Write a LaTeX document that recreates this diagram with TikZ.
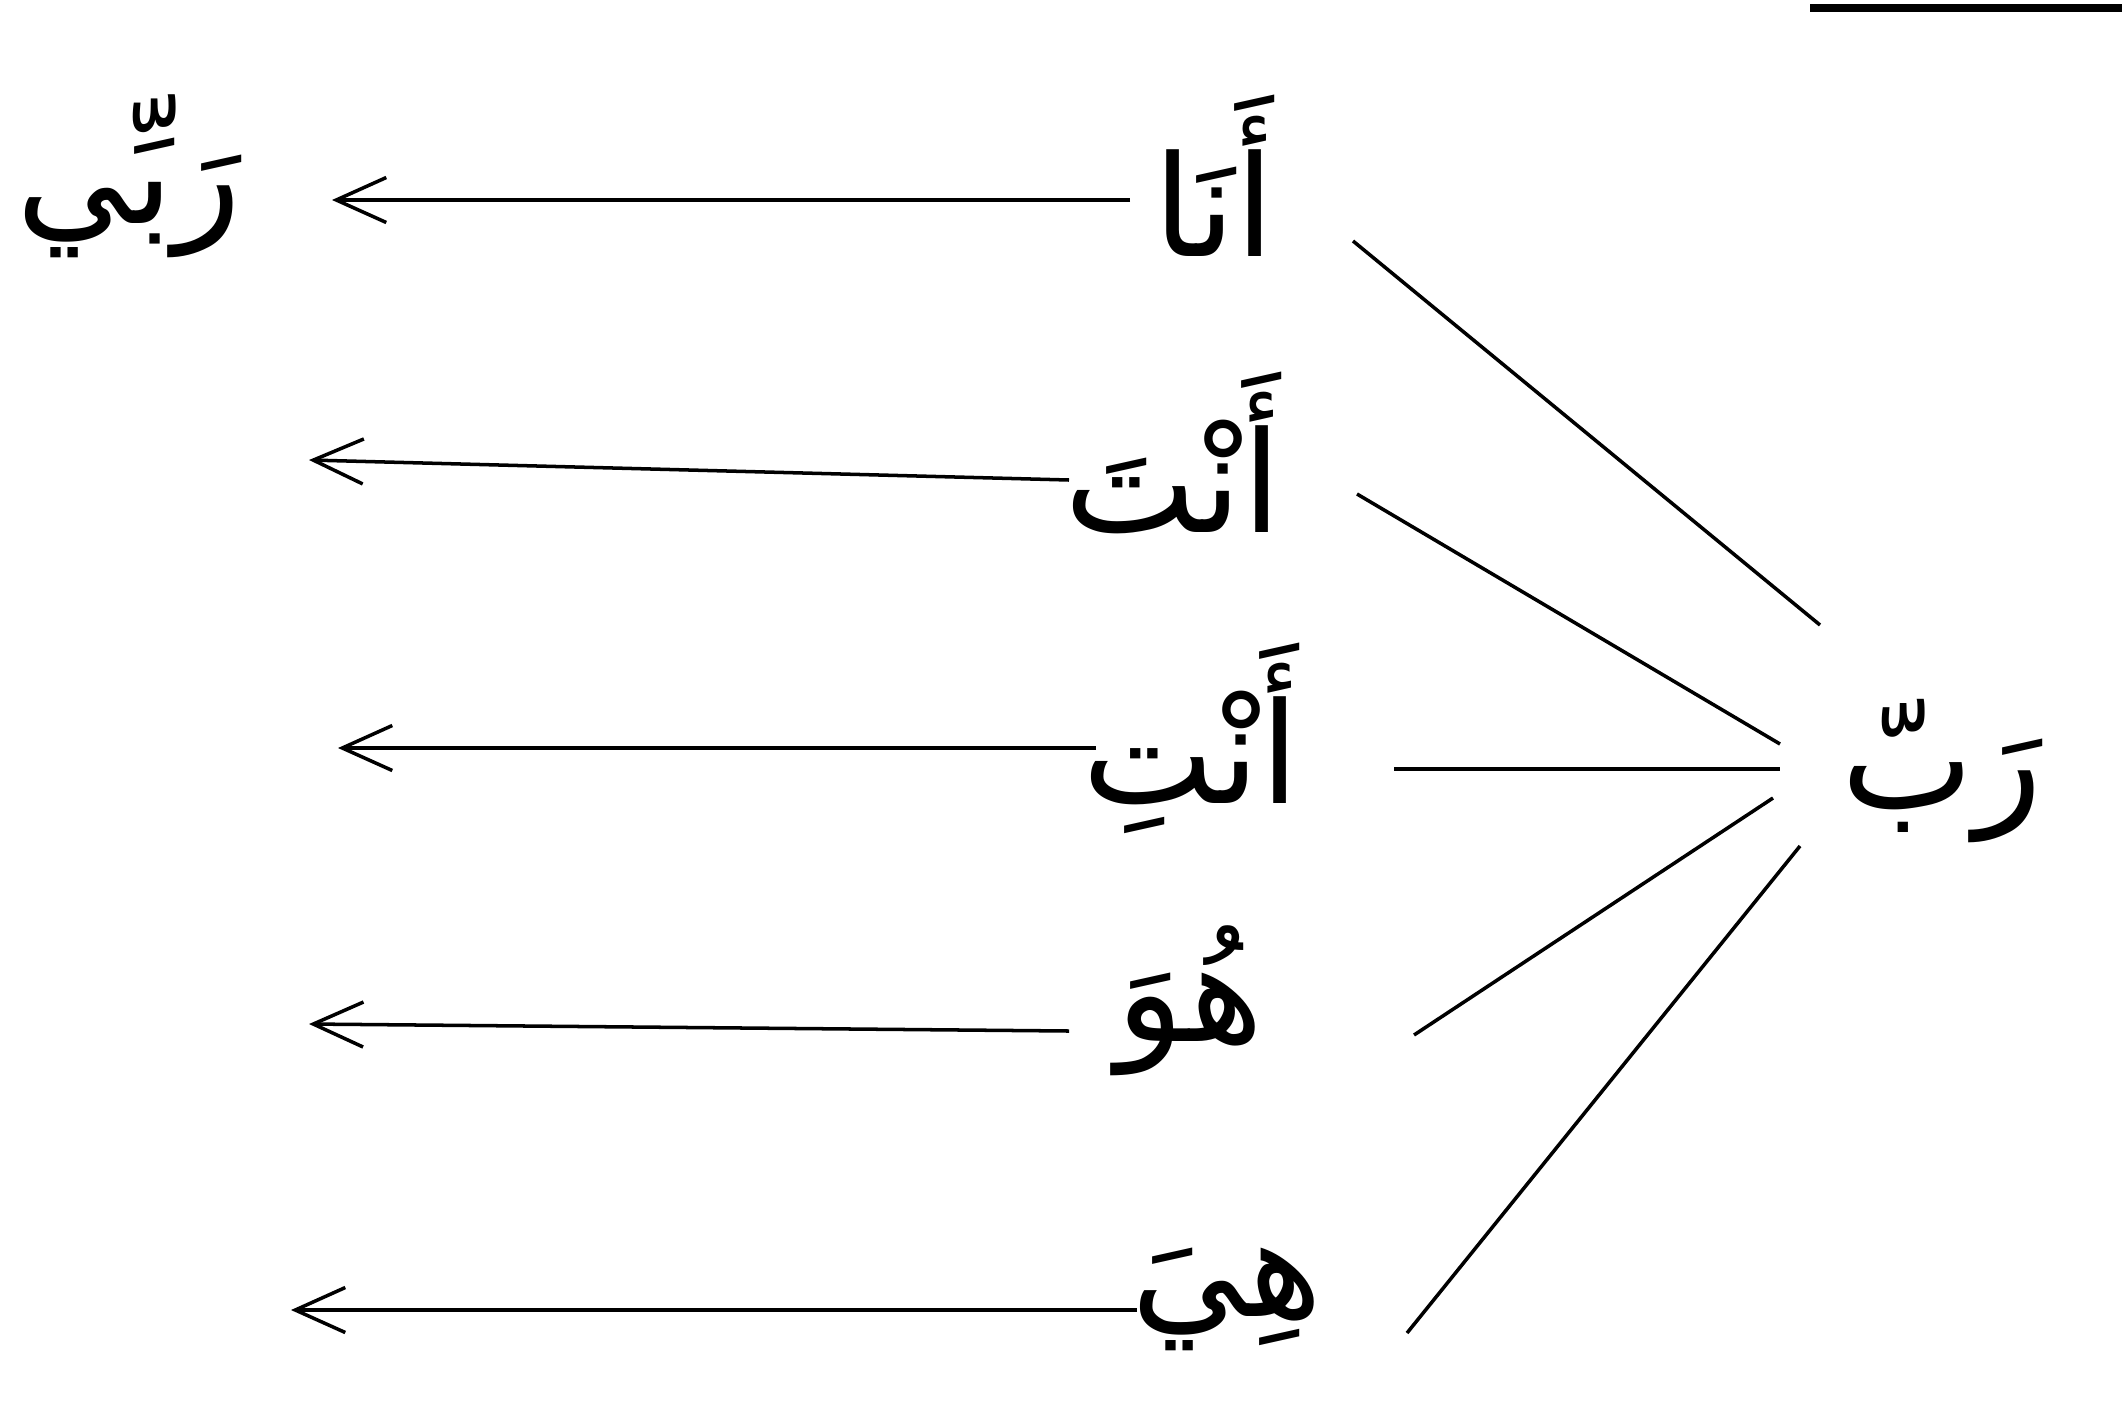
\documentclass[tikz,border=0pt]{standalone}
\usepackage{fontspec}
\newfontfamily\arabicfont[Script=Arabic]{DejaVu Sans}
\TeXXeTstate=1
\usetikzlibrary{arrows.meta}
\tikzset{
  word/.style={font=\arabicfont\fontsize{40}{48}\selectfont, inner sep=0pt},
  arr/.style={line width=1pt, -{Straight Barb[length=5mm,width=4.5mm,line width=1pt]}},
  link/.style={line width=1pt},
}
\begin{document}
\begin{tikzpicture}[x=1cm,y=1cm]
\useasboundingbox (0,0) rectangle (21.22,-14.17);
% words
\node[word] (rabbi) at (1.29,-1.76) {\beginR رَبِّي\endR};
\node[word] (ana)   at (12.14,-1.76) {\beginR أَنَا\endR};
\node[word] (anta)  at (11.73,-4.53) {\beginR أَنْتَ\endR};
\node[word] (anti)  at (11.91,-7.38) {\beginR أَنْتِ\endR};
\node[word] (huwa)  at (11.90,-10.01) {\beginR هُوَ\endR};
\node[word] (hiya)  at (12.27,-12.99) {\beginR هِيَ\endR};
\node[word] (rabb)  at (19.42,-7.71) {\beginR رَبّ\endR};
% arrow ends
\coordinate (a1s) at (11.30,-2.00); \coordinate (a1e) at (3.32,-2.00);
\coordinate (a2s) at (10.69,-4.80); \coordinate (a2e) at (3.09,-4.60);
\coordinate (a3s) at (10.96,-7.48); \coordinate (a3e) at (3.38,-7.48);
\coordinate (a4s) at (10.69,-10.31); \coordinate (a4e) at (3.09,-10.24);
\coordinate (a5s) at (11.37,-13.10); \coordinate (a5e) at (2.91,-13.10);
\draw[arr] (a1s) -- (a1e);
\draw[arr] (a2s) -- (a2e);
\draw[arr] (a3s) -- (a3e);
\draw[arr] (a4s) -- (a4e);
\draw[arr] (a5s) -- (a5e);
% links to rabb
\coordinate (l1s) at (13.53,-2.41); \coordinate (l1e) at (18.20,-6.25);
\coordinate (l2s) at (13.57,-4.94); \coordinate (l2e) at (17.80,-7.44);
\coordinate (l3s) at (13.94,-7.69); \coordinate (l3e) at (17.80,-7.69);
\coordinate (l4s) at (14.14,-10.35); \coordinate (l4e) at (17.73,-7.98);
\coordinate (l5s) at (14.07,-13.33); \coordinate (l5e) at (18.00,-8.46);
\draw[link] (l1s) -- (l1e);
\draw[link] (l2s) -- (l2e);
\draw[link] (l3s) -- (l3e);
\draw[link] (l4s) -- (l4e);
\draw[link] (l5s) -- (l5e);
% top rule
\coordinate (r1) at (18.10,-0.08); \coordinate (r2) at (21.22,-0.08);
\draw[line width=2.3pt] (r1) -- (r2);
\end{tikzpicture}
\end{document}
